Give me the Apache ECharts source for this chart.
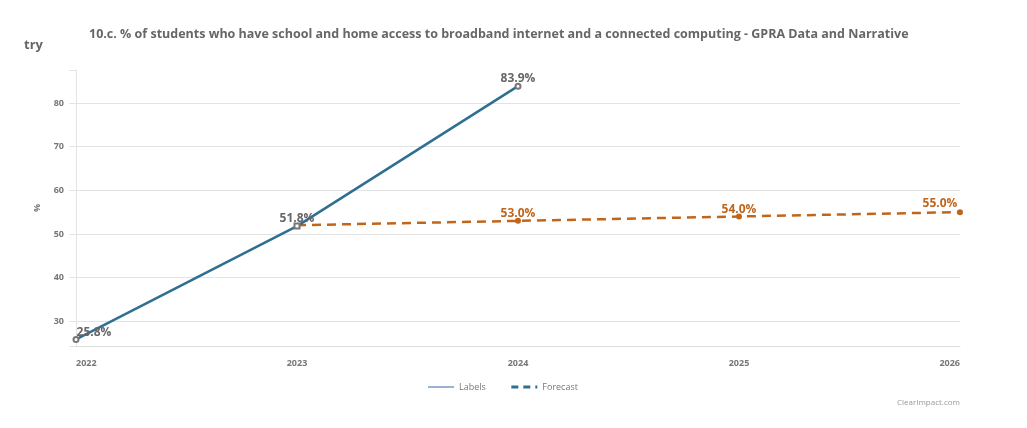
<!DOCTYPE html>
<html>
<head>
<meta charset="utf-8">
<script src="https://cdn.jsdelivr.net/npm/echarts@6/dist/echarts.min.js"></script>
<style>
  html, body { margin: 0; padding: 0; background: #fff; }
  #container { width: 1027px; height: 428px; }
</style>
</head>
<body>
<div id="container"></div>
<script>
const titleText = '10.c. % of students who have school and home access to broadband internet and a connected computing - GPRA Data and Narrative'

// actual values
const actualYears = [2022, 2023, 2024]
const actualValues = [25.8, 51.8, 83.9]

// forecast values
const forecastYears = [2023, 2024, 2025, 2026]
const forecastValues = [52.0, 53.0, 54.0, 55.0]

const blue = '#2f6f91'
const orange = '#c0661c'
const gray = '#666'

const dom = document.getElementById('container')
const myChart = echarts.init(dom)

const actualData = actualYears.map((y, i) => {
  const item = { value: [y, actualValues[i]] }
  if (i === 0) item.label = { offset: [18, 5] }
  if (i === 1) item.symbol = 'emptyRect'
  return item
})

const forecastData = forecastYears.map((y, i) => {
  const item = { value: [y, forecastValues[i]] }
  // first forecast point sits on the last actual one, no marker there
  if (i === 0) {
    item.symbol = 'none'
    item.label = { show: false }
  }
  if (i === forecastYears.length - 1) item.label = { offset: [-20, 2] }
  return item
})

const option = {
  animation: false,
  textStyle: { fontFamily: 'Open Sans' },
  title: {
    text: titleText,
    left: 84,
    top: 23,
    textStyle: { fontSize: 12.5, fontWeight: 'bold', color: gray, fontFamily: 'Open Sans' }
  },
  graphic: [
    {
      type: 'text',
      left: 24,
      top: 39,
      style: { text: 'try', fontSize: 13, fontWeight: 'bold', fill: gray, fontFamily: 'Open Sans' }
    },
    {
      type: 'text',
      right: 67,
      top: 399,
      style: { text: 'ClearImpact.com', fontSize: 8, fill: '#999', fontFamily: 'Open Sans' }
    }
  ],
  legend: {
    bottom: 31,
    left: 422,
    itemWidth: 26,
    itemHeight: 10,
    itemGap: 24,
    textStyle: { fontSize: 9, color: '#777' },
    data: [
      { name: 'Labels', itemStyle: { opacity: 0 }, lineStyle: { color: '#9ab3d0', width: 2, type: 'solid' } },
      { name: 'Forecast', itemStyle: { opacity: 0 }, lineStyle: { color: blue, width: 3, type: [7, 5] } }
    ]
  },
  grid: { left: 76, right: 67, top: 70, bottom: 82 },
  xAxis: {
    type: 'value',
    min: 2022,
    max: 2026,
    interval: 1,
    axisLine: { show: true, lineStyle: { color: '#ddd' } },
    axisTick: { show: false },
    splitLine: { show: false },
    axisLabel: {
      formatter: v => String(v),
      fontSize: 9,
      fontWeight: 'bold',
      color: '#777',
      margin: 13,
      alignMinLabel: 'left',
      alignMaxLabel: 'right'
    }
  },
  yAxis: {
    type: 'value',
    min: 24.3,
    max: 87.6,
    name: '%',
    nameLocation: 'middle',
    nameGap: 34,
    nameRotate: 90,
    nameTextStyle: { fontSize: 9, fontWeight: 'bold', color: '#777' },
    axisLine: { show: true, lineStyle: { color: '#e3e3e3' } },
    axisTick: { show: true, length: 7, lineStyle: { color: '#e3e3e3' } },
    splitLine: { show: true, showMinLine: false, showMaxLine: false, lineStyle: { color: '#e3e3e3' } },
    axisLabel: {
      formatter: v => (Math.abs(v % 10) < 1e-6 ? String(v) : ''),
      fontSize: 9,
      fontWeight: 'bold',
      color: '#777',
      margin: 12
    }
  },
  series: [
    {
      name: 'Forecast',
      type: 'line',
      data: forecastData,
      symbol: 'circle',
      symbolSize: 6,
      lineStyle: { color: orange, width: 2.5, type: [9, 6] },
      itemStyle: { color: orange },
      label: {
        show: true,
        position: 'top',
        distance: 2,
        offset: [0, 4],
        formatter: p => p.value[1].toFixed(1) + '%',
        color: orange,
        fontSize: 12,
        fontWeight: 'bold'
      },
      z: 2
    },
    {
      name: 'Labels',
      type: 'line',
      data: actualData,
      symbol: 'emptyCircle',
      symbolSize: 5,
      lineStyle: { color: blue, width: 2.5 },
      itemStyle: { color: '#777', borderWidth: 1 },
      label: {
        show: true,
        position: 'top',
        distance: 2,
        offset: [0, 4],
        formatter: p => p.value[1].toFixed(1) + '%',
        color: gray,
        fontSize: 12,
        fontWeight: 'bold'
      },
      z: 3
    }
  ]
}

myChart.setOption(option)
</script>
</body>
</html>
